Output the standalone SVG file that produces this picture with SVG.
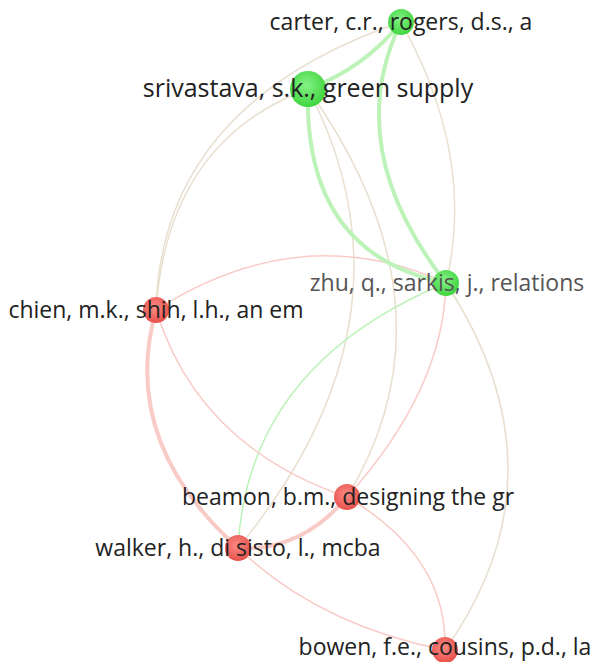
<svg xmlns="http://www.w3.org/2000/svg" width="594" height="662" viewBox="0 0 594 662">
<style>
.e{fill:none;stroke-linecap:round}
.g{stroke:#bdf3b9}
.t{stroke:#e8dfcf}
.r{stroke:#f9cbc7}
.lbl{font-family:"Open Sans","Noto Sans","DejaVu Sans",sans-serif;font-size:23px;fill:#222;text-anchor:middle}
</style>
<defs>
<radialGradient id="gg" cx="0.45" cy="0.4" r="0.6"><stop offset="0" stop-color="#86f286"/><stop offset="1" stop-color="#3fd53f"/></radialGradient>
<radialGradient id="rg" cx="0.45" cy="0.4" r="0.6"><stop offset="0" stop-color="#fb8a84"/><stop offset="1" stop-color="#e8514b"/></radialGradient>
</defs>
<rect width="594" height="662" fill="#fff"/>
<g id="edges">
<path class="e t" stroke-width="1.5" d="M401,22 Q161.5,104 156,310"/>
<path class="e t" stroke-width="1.5" d="M308,89 Q168,140.5 156,310"/>
<path class="e t" stroke-width="1.5" d="M401,22 Q476.5,157.5 446,283"/>
<path class="e t" stroke-width="1.5" d="M308,89 Q427,317.5 238,548"/>
<path class="e t" stroke-width="1.5" d="M308,89 Q462.5,307 347,497"/>
<path class="e r" stroke-width="1.5" d="M156,310 Q301,217.5 446,283"/>
<path class="e g" stroke-width="1.5" d="M446,283 Q248,364.5 238,548"/>
<path class="e r" stroke-width="1.5" d="M446,283 Q443.5,390 347,497"/>
<path class="e t" stroke-width="1.5" d="M446,283 Q570.5,473.5 445,650"/>
<path class="e r" stroke-width="1.5" d="M156,310 Q198.5,446.5 347,497"/>
<path class="e r" stroke-width="1.5" d="M238,548 Q318.5,625 445,650"/>
<path class="e r" stroke-width="1.5" d="M347,497 Q448,556.5 445,650"/>
<path class="e r" stroke-width="4" d="M156,310 Q119,441 238,548"/>
<path class="e r" stroke-width="4" d="M238,548 Q301.5,551.5 347,497"/>
<path class="e g" stroke-width="4" d="M401,22 Q365,68 308,89"/>
<path class="e g" stroke-width="4" d="M401,22 Q340.5,147.5 446,283"/>
<path class="e g" stroke-width="4" d="M308,89 Q303,254 446,283"/>
</g>
<g id="carter"><circle cx="401" cy="22" r="13" fill="url(#gg)"/><text class="lbl" x="401" y="30">carter, c.r., rogers, d.s., a</text></g>
<g id="srivastava"><circle cx="308" cy="89" r="18" fill="url(#gg)"/><text class="lbl" x="308" y="97" style="font-size:25px">srivastava, s.k., green supply</text></g>
<g id="zhu"><circle cx="446" cy="283" r="13" fill="url(#gg)"/><text class="lbl" x="447" y="291" style="fill:#555">zhu, q., sarkis, j., relations</text></g>
<g id="chien"><circle cx="156" cy="310" r="13" fill="url(#rg)"/><text class="lbl" x="156" y="318">chien, m.k., shih, l.h., an em</text></g>
<g id="beamon"><circle cx="347" cy="497" r="13" fill="url(#rg)"/><text class="lbl" x="348" y="505">beamon, b.m., designing the gr</text></g>
<g id="walker"><circle cx="238" cy="548" r="13" fill="url(#rg)"/><text class="lbl" x="238" y="556">walker, h., di sisto, l., mcba</text></g>
<g id="bowen"><circle cx="445" cy="650" r="13" fill="url(#rg)"/><text class="lbl" x="445" y="655">bowen, f.e., cousins, p.d., la</text></g>
</svg>
